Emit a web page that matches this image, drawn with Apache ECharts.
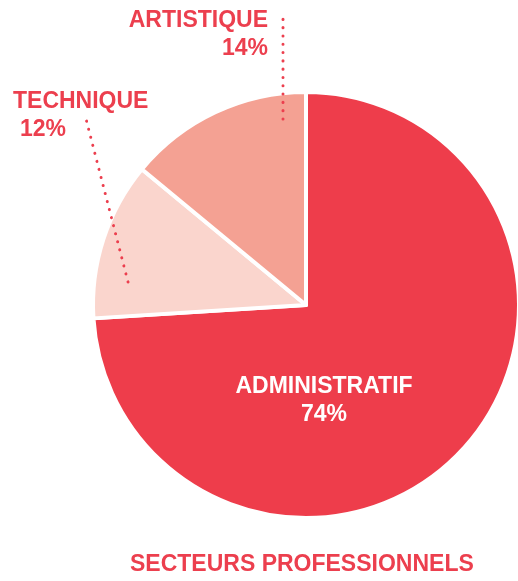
<!DOCTYPE html>
<html><head><meta charset="utf-8">
<script src="https://cdn.jsdelivr.net/npm/echarts@6/dist/echarts.min.js"></script>
<style>html,body{margin:0;padding:0;background:#fff}#c{width:518px;height:581px}</style>
</head><body><div id="c"></div>
<script>
const categories = ['ADMINISTRATIF', 'TECHNIQUE', 'ARTISTIQUE'];
const values = [74, 12, 14];
const sliceColors = ['#EE3D4B', '#FAD5CD', '#F4A193'];
const chartTitle = 'SECTEURS PROFESSIONNELS';

const RED = '#EC3F4E';
const FONT = '"Liberation Sans", Arial, sans-serif';
const FS = 23;

// label placement (layout only)
const placement = {
  ADMINISTRATIF: { x: 324, y: 373, align: 'center', color: '#ffffff', indent: 0 },
  TECHNIQUE: { x: 13, y: 88, align: 'left', color: RED, indent: 7, line: [[128, 282], [86, 119]] },
  ARTISTIQUE: { x: 268, y: 7, align: 'right', color: RED, indent: 0, line: [[283, 119], [283, 13]] }
};

const chart = echarts.init(document.getElementById('c'), null, { renderer: 'canvas' });

const pieData = categories.map((name, i) => ({
  name: name, value: values[i], itemStyle: { color: sliceColors[i] }
}));

const labelData = categories.map((name, i) => {
  const pl = placement[name];
  const st = { fontSize: FS, lineHeight: 28, color: pl.color, fontFamily: FONT, fontWeight: 'bold', align: pl.align };
  return {
    name: name,
    value: values[i],
    label: {
      color: pl.color,
      align: pl.align,
      rich: {
        n: st,
        p: Object.assign({}, st, { padding: [0, 0, 0, pl.indent] })
      }
    },
    labelLine: { show: !!pl.line }
  };
});

chart.setOption({
  animation: false,
  backgroundColor: '#ffffff',
  title: {
    text: chartTitle,
    left: 130,
    top: 553,
    padding: 0,
    textStyle: { color: RED, fontFamily: FONT, fontSize: FS, fontWeight: 'bold' }
  },
  series: [{
    type: 'pie',
    z: 2,
    center: [306, 305],
    radius: 213,
    startAngle: 90,
    clockwise: true,
    silent: true,
    itemStyle: { borderColor: '#ffffff', borderWidth: 4 },
    label: { show: false },
    labelLine: { show: false },
    emphasis: { disabled: true },
    data: pieData
  }, {
    type: 'pie',
    z: 5,
    center: [306, 305],
    radius: 213,
    startAngle: 90,
    clockwise: true,
    silent: true,
    avoidLabelOverlap: false,
    itemStyle: { color: 'rgba(0,0,0,0)', borderWidth: 0 },
    label: {
      show: true,
      position: 'outside',
      fontFamily: FONT,
      fontSize: FS,
      fontWeight: 'bold',
      formatter: function (p) { return '{n|' + p.name + '}\n{p|' + p.value + '%}'; }
    },
    labelLine: {
      show: true,
      smooth: false,
      lineStyle: { color: RED, width: 3, type: [0.1, 8.2], cap: 'round' }
    },
    labelLayout: function (params) {
      const pl = placement[categories[params.dataIndex]];
      const out = { x: pl.x, y: pl.y, align: pl.align, verticalAlign: 'top' };
      if (pl.line) out.labelLinePoints = pl.line;
      return out;
    },
    emphasis: { disabled: true },
    data: labelData
  }]
});
</script></body></html>
